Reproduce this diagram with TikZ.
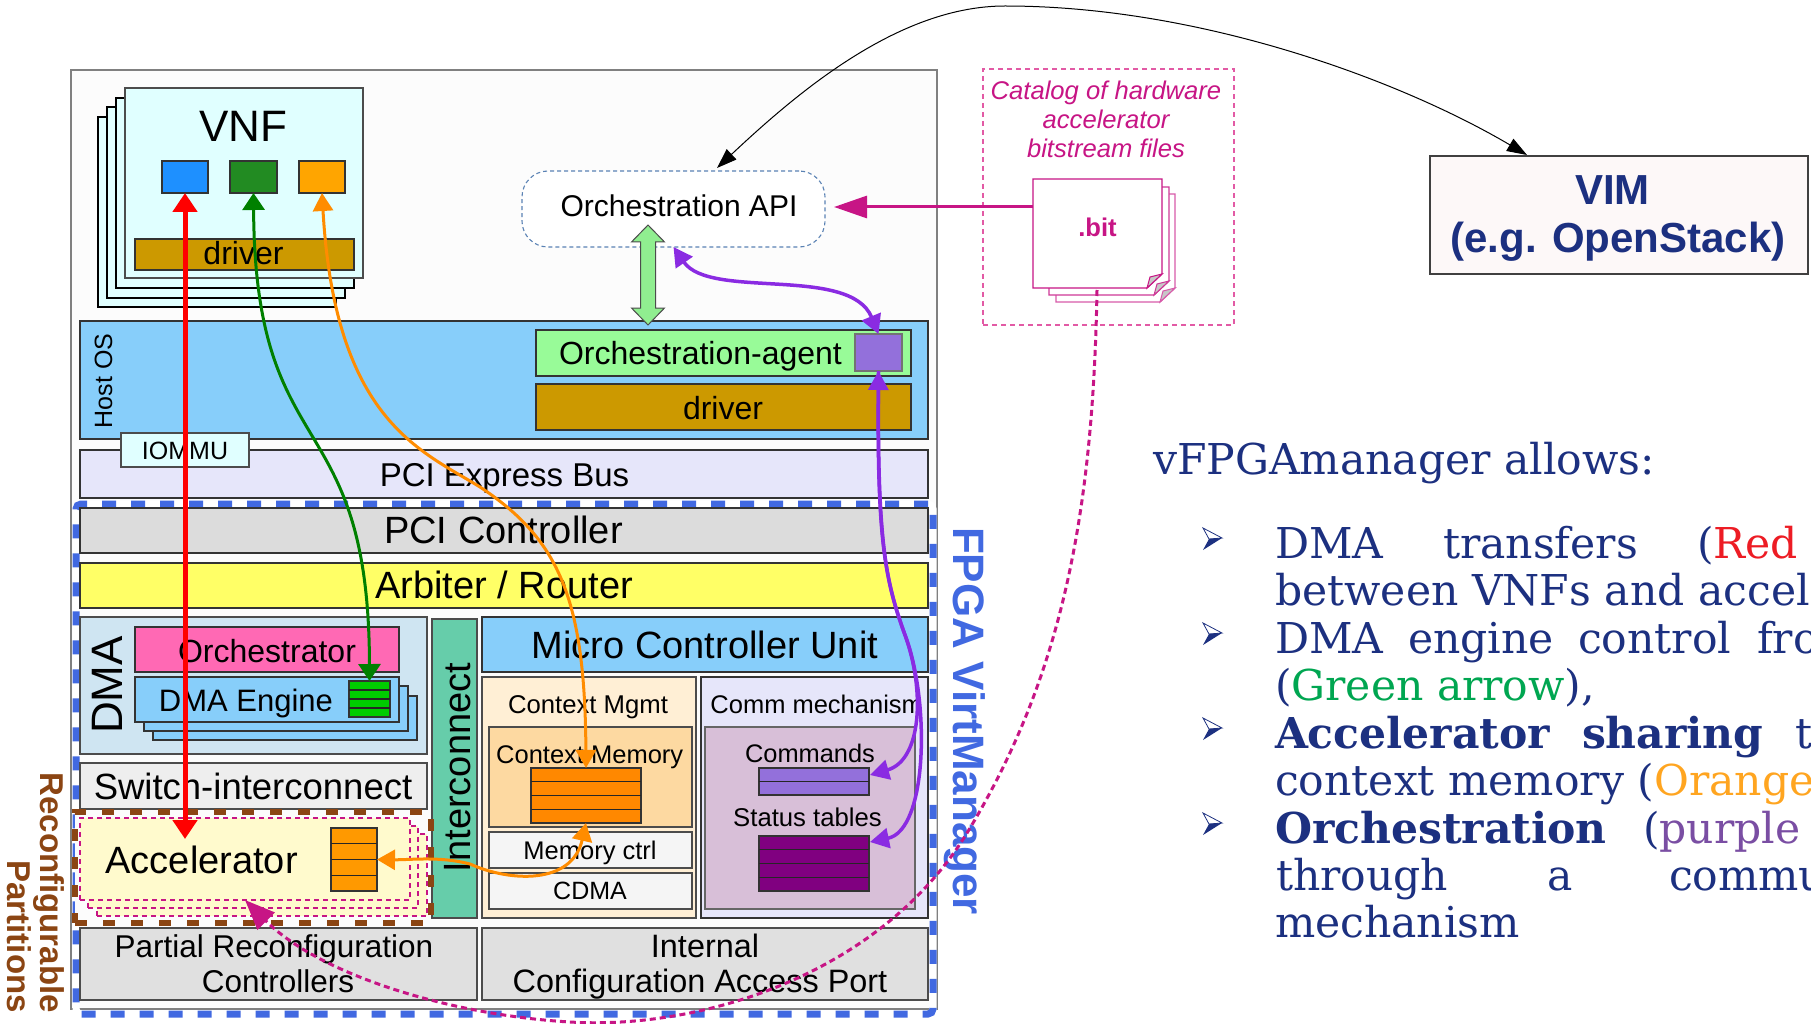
\documentclass[tikz,border=0pt]{standalone}
\usepackage{fontspec}
\setmainfont{Liberation Sans}
\newfontfamily\notefont{DejaVu Serif}
\usetikzlibrary{arrows.meta}

\definecolor{navytxt}{RGB}{28,48,128}
\definecolor{vnffill}{RGB}{224,255,255}
\definecolor{sqblue}{RGB}{30,144,255}
\definecolor{sqgreen}{RGB}{34,139,34}
\definecolor{sqorange}{RGB}{255,165,0}
\definecolor{drvfill}{RGB}{204,153,0}
\definecolor{skyfill}{RGB}{135,206,250}
\definecolor{agentfill}{RGB}{152,251,152}
\definecolor{agentsqfill}{RGB}{147,112,219}
\definecolor{busfill}{RGB}{230,230,250}
\definecolor{ctrlfill}{RGB}{220,220,220}
\definecolor{arbfill}{RGB}{255,255,102}
\definecolor{dmafill}{RGB}{207,229,242}
\definecolor{orchfill}{RGB}{255,105,180}
\definecolor{fifogreen}{RGB}{0,204,0}
\definecolor{switchfill}{RGB}{238,238,238}
\definecolor{icfill}{RGB}{102,205,170}
\definecolor{accfill}{RGB}{255,250,205}
\definecolor{fifoorange}{RGB}{255,153,0}
\definecolor{ctxorange}{RGB}{255,136,0}
\definecolor{mgmtfill}{RGB}{255,239,213}
\definecolor{memfill}{RGB}{253,217,161}
\definecolor{lightbox}{RGB}{245,245,245}
\definecolor{thistlefill}{RGB}{216,191,216}
\definecolor{cmdfill}{RGB}{147,112,219}
\definecolor{statfill}{RGB}{128,0,128}
\definecolor{cfgfill}{RGB}{224,224,224}
\definecolor{fpgablue}{RGB}{65,105,225}
\definecolor{rpbrown}{RGB}{139,69,19}
\definecolor{bitpink}{RGB}{199,21,133}
\definecolor{catpink}{RGB}{226,90,165}
\definecolor{apidash}{RGB}{90,130,180}
\definecolor{arrred}{RGB}{255,0,0}
\definecolor{arrgreen}{RGB}{0,128,0}
\definecolor{arrorange}{RGB}{255,140,0}
\definecolor{arrpurple}{RGB}{138,43,226}
\definecolor{fatgreen}{RGB}{144,238,144}
\definecolor{vimfill}{RGB}{253,248,248}
\definecolor{noteRed}{RGB}{237,28,36}
\definecolor{noteGreen}{RGB}{0,166,81}
\definecolor{noteOrange}{RGB}{255,165,32}
\definecolor{notePurple}{RGB}{122,78,163}
\definecolor{outerfill}{RGB}{252,252,252}

\newcommand\fsz[1]{\fontsize{#1}{#1}\selectfont}

\tikzset{
  blk/.style={draw=black!80, line width=1.3pt, inner sep=0pt, outer sep=0pt, anchor=north west},
  lbl/.style={inner sep=0pt, outer sep=0pt, anchor=base},
  notetxt/.style={inner sep=0pt, outer sep=0pt, anchor=base west, text=navytxt,
    font=\notefont\fsz{42.5}},
  partrect/.style={fill=accfill, draw=bitpink, line width=2.5pt, dash pattern=on 5pt off 4pt},
  docpage/.style={fill=white, draw=bitpink, line width=1.3pt},
  redarr/.style={draw=arrred, line width=5pt,
    {Triangle[length=19pt,width=24pt]}-{Triangle[length=19pt,width=24pt]}},
  greenarr/.style={draw=arrgreen, line width=3pt,
    {Triangle[length=17pt,width=22pt]}-{Triangle[length=17pt,width=22pt]}},
  orangearr/.style={draw=arrorange, line width=3pt,
    {Triangle[length=18pt,width=20pt]}-{Triangle[length=18pt,width=20pt]}},
  purplearr/.style={draw=arrpurple, line width=3.5pt,
    {Triangle[length=19pt,width=20pt]}-{Triangle[length=19pt,width=20pt]}},
  purpleone/.style={draw=arrpurple, line width=3.5pt, -{Triangle[length=19pt,width=20pt]}},
  pinkarr/.style={draw=bitpink, line width=3pt, -{Triangle[length=33pt,width=22pt]}},
  pinkdots/.style={draw=bitpink, line width=3pt, dash pattern=on 6pt off 4pt,
    -{Triangle[length=30pt,width=24pt]}},
  blackarr/.style={draw=black, line width=1pt,
    {Triangle[length=20pt,width=14pt]}-{Triangle[length=20pt,width=14pt]}},
  bullet/.pic={
    \filldraw[fill=white, draw=navytxt, line width=0.8pt] (2,-30) -- (21,-20) -- (8,-19) -- cycle;
    \fill[navytxt] (8,-19) -- (21,-20) -- (2,-8) -- cycle;
  }
}

% block: [style]{name}{x1}{y1}{x2}{y2}, top-left corner and bottom-right corner
\newcommand\blk[6][]{\node[blk,#1,minimum width={#5-#3},minimum height={#6-#4}] (#2) at (#3,#4) {};}
% queue of equal rows: {name}{x1}{y1}{x2}{y2}{rows}{colour}
\newcommand\fifo[7]{%
  \blk[fill=#7, line width=1.2pt]{#1}{#2}{#3}{#4}{#5}
  \pgfmathsetmacro\rowh{(#5-#3)/#6}
  \pgfmathtruncatemacro\lastrow{#6-1}
  \foreach \k in {1,...,\lastrow}{\draw[line width=1.2pt, black!85] (#2,{#3+\k*\rowh}) -- (#4,{#3+\k*\rowh});}
}
% sheet with a folded corner: {x1}{y1}{x2}{y2}{colour}
\newcommand\docsheet[5]{%
  \draw[docpage, draw=#5] (#1,#2) -- (#3,#2) -- (#3,#4-14) -- (#3-15,#4) -- (#1,#4) -- cycle;
  \filldraw[fill=black!22, draw=#5, line width=1pt] (#3,#4-14) -- (#3-15,#4) -- (#3-12,#4-11) -- cycle;
}

\begin{document}
\begin{tikzpicture}[x=1pt,y=-1pt]
\useasboundingbox (0,0) rectangle (1811,1024);
\fill[white] (0,0) rectangle (1811,1024);

% ---------------- host machine ----------------
\blk[draw=black!50, fill=outerfill, line width=1.5pt]{host}{71}{70}{937}{1009}

% VNF stack
\blk[fill=vnffill, draw=black]{vnfd}{98}{117}{336}{307}
\blk[fill=vnffill, draw=black]{vnfc}{107}{107}{345}{298}
\blk[fill=vnffill, draw=black]{vnfb}{116}{98}{354}{288}
\blk[fill=vnffill, draw=black!70]{vnfa}{125}{88}{363}{278}
\node[lbl, font=\fsz{44}] (tvnf) at (243.5,142) {VNF};
\blk[fill=sqblue, line width=1.2pt]{bluesq}{162}{161}{208}{193}
\blk[fill=sqgreen, line width=1.2pt]{greensq}{230}{161}{277}{193}
\blk[fill=sqorange, line width=1.2pt]{orangesq}{299}{161}{345}{193}
\blk[fill=drvfill]{vnfdrv}{135}{239}{354}{270}
\node[lbl, font=\fsz{32}] (tvnfdrv) at (243.5,265) {driver};

% orchestration API
\blk[draw=apidash, fill=white, line width=1.1pt, dash pattern=on 4pt off 3pt, rounded corners=26pt]{api}{522}{171}{825}{247}
\node[lbl, font=\fsz{30}] (tapi) at (679,217) {Orchestration API};

% host OS
\blk[fill=skyfill]{hostos}{80}{321}{928}{439}
\node[lbl, rotate=90, font=\fsz{25}] (thostos) at (112,381) {Host OS};
\blk[fill=agentfill]{agent}{536}{330}{911}{376}
\node[lbl, font=\fsz{32}] (tagent) at (700.5,364) {Orchestration-agent};
\blk[fill=agentsqfill, draw=black!55, line width=1.2pt]{agentsq}{855}{334}{902}{371}
\blk[fill=drvfill]{hostdrv}{536}{384}{911}{430}
\node[lbl, font=\fsz{32}] (thostdrv) at (723,419) {driver};

% PCI express bus and IOMMU
\blk[fill=busfill]{pcie}{80}{450}{928}{498}
\node[lbl, font=\fsz{33}] (tpcie) at (504.5,486) {PCI Express Bus};
\blk[fill=vnffill, draw=black!70]{iommu}{121}{433}{249}{467}
\node[lbl, font=\fsz{25}] (tiommu) at (185,459) {IOMMU};

% ---------------- FPGA ----------------
\blk[draw=fpgablue, line width=7pt, dash pattern=on 14pt off 15pt, rounded corners=5pt,
     preaction={draw=white, solid}]{fpga}{76}{504}{933}{1014}
\node[lbl, rotate=-90, font=\bfseries\fsz{44}, text=fpgablue] (tfpga) at (953,721) {FPGA VirtManager};

\blk[fill=ctrlfill]{pcictrl}{80}{508}{928}{553}
\node[lbl, font=\fsz{38}] (tpcictrl) at (503.5,543) {PCI Controller};
\blk[fill=arbfill]{arbiter}{80}{563}{928}{608}
\node[lbl, font=\fsz{38}] (tarbiter) at (504,598) {Arbiter / Router};

% DMA block
\blk[fill=dmafill, draw=black!70]{dma}{80}{617}{427}{754}
\node[lbl, rotate=90, font=\fsz{44}] (tdma) at (122,685) {DMA};
\blk[fill=orchfill]{orch}{135}{627}{399}{672}
\node[lbl, font=\fsz{32}] (torch) at (267,662) {Orchestrator};
\blk[fill=skyfill, draw=black!80]{enginec}{153}{696}{417}{740}
\blk[fill=skyfill, draw=black!80]{engineb}{144}{686}{408}{731}
\blk[fill=skyfill, draw=black!80]{enginea}{135}{677}{399}{722}
\node[lbl, font=\fsz{31}] (tengine) at (246,711) {DMA Engine};
\fifo{dmafifo}{349}{681}{390}{717}{4}{fifogreen}

\blk[fill=switchfill, draw=black!70]{switch}{80}{763}{427}{809}
\node[lbl, font=\fsz{36.5}] (tswitch) at (253,799) {Switch-interconnect};

\blk[fill=icfill, draw=black!70]{ic}{432}{619}{477}{918}
\node[lbl, rotate=90, font=\fsz{38}] (tic) at (470,767.5) {Interconnect};

% micro controller
\blk[fill=skyfill]{mcu}{482}{617}{928}{672}
\node[lbl, font=\fsz{38}] (tmcu) at (705,658) {Micro Controller Unit};
\blk[fill=mgmtfill, draw=black!70]{mgmt}{482}{677}{696}{918}
\node[lbl, font=\fsz{25.7}] (tmgmt) at (588,713) {Context Mgmt};
\blk[fill=memfill, draw=black!70]{ctxmem}{489}{727}{692}{827}
\node[lbl, font=\fsz{25.5}] (tctxmem) at (589.7,763) {Context Memory};
\fifo{ctxfifo}{531}{768}{641}{823}{4}{ctxorange}
\blk[fill=lightbox, draw=black!70]{memctrl}{489}{832}{692}{868}
\node[lbl, font=\fsz{25.5}] (tmemctrl) at (590,859) {Memory ctrl};
\blk[fill=lightbox, draw=black!70]{cdma}{489}{873}{692}{909}
\node[lbl, font=\fsz{25}] (tcdma) at (590,899) {CDMA};

\blk[fill=busfill]{comm}{701}{677}{928}{918}
\node[lbl, font=\fsz{25.5}] (tcomm) at (816.7,713) {Comm mechanism};
\blk[fill=thistlefill, draw=black!60]{commin}{705}{727}{915}{909}
\node[lbl, font=\fsz{25.4}] (tcmd) at (810,762) {Commands};
\fifo{cmdfifo}{759}{768}{869}{795}{2}{cmdfill}
\node[lbl, font=\fsz{25.7}] (tstat) at (807.5,826) {Status tables};
\fifo{statfifo}{759}{836}{869}{891}{4}{statfill}

% reconfiguration
\blk[fill=cfgfill, draw=black!70]{prc}{80}{928}{477}{1000}
\node[lbl, font=\fsz{31.5}] (tprca) at (274,957) {Partial Reconfiguration};
\node[lbl, font=\fsz{31.5}] (tprcb) at (278,992) {Controllers};
\blk[fill=cfgfill, draw=black!70]{icap}{482}{928}{928}{1000}
\node[lbl, font=\fsz{32.4}] (ticapa) at (705,957) {Internal};
\node[lbl, font=\fsz{32.4}] (ticapb) at (700,992) {Configuration Access Port};

% reconfigurable partitions
\blk[draw=none, fill=outerfill]{rpback}{75}{812}{431}{923}
\blk[partrect]{part3}{97}{834}{427}{916}
\blk[partrect]{part2}{88}{826}{418}{908}
\blk[partrect]{accel}{80}{818}{410}{900}
\node[lbl, font=\fsz{38}] (taccel) at (201.7,873) {Accelerator};
\fifo{accfifo}{331}{828}{377}{891}{4}{fifoorange}
\blk[draw=rpbrown, line width=6pt, dash pattern=on 12pt off 16pt]{rp}{75}{812}{431}{923}
\node[inner sep=0pt, rotate=-90, anchor=base east, font=\bfseries\fsz{33}, text=rpbrown] (trpa) at (40,1013) {Reconfigurable};
\node[inner sep=0pt, rotate=-90, anchor=base east, font=\bfseries\fsz{33}, text=rpbrown] (trpb) at (7,1013) {Partitions};

% ---------------- bitstream catalog ----------------
\blk[draw=catpink, line width=1.2pt, dash pattern=on 5pt off 4pt]{catalog}{983}{69}{1234}{325}
\node[lbl, font=\itshape\fsz{25.6}, text=bitpink] (tcata) at (1106,100) {Catalog of hardware};
\node[lbl, font=\itshape\fsz{25.6}, text=bitpink] (tcatb) at (1106,129) {accelerator};
\node[lbl, font=\itshape\fsz{25.6}, text=bitpink] (tcatc) at (1106,158) {bitstream files};
\docsheet{1056}{194}{1175}{302}{bitpink!70}
\docsheet{1049}{187}{1169}{295}{bitpink!85}
\docsheet{1033}{179}{1162}{288}{bitpink}
\node[lbl, font=\bfseries\fsz{25.6}, text=bitpink] (tbit) at (1097.5,237) {.bit};
\coordinate (bitL) at (1033,207);
\coordinate (bitB) at (1097,290);
\coordinate (apiR) at (834,207);

% ---------------- VIM ----------------
\blk[fill=vimfill, draw=black!75, line width=1.5pt]{vim}{1430}{156}{1808}{274}
\node[lbl, font=\bfseries\fsz{42}, text=navytxt] (tvima) at (1612.5,205) {VIM};
\node[lbl, font=\bfseries\fsz{42}, text=navytxt] (tvimb) at (1618,252) {(e.g. OpenStack)};
\coordinate (apiTop) at (717,168);
\coordinate (vimTop) at (1527,155);

% ---------------- connectors ----------------
% agent <-> API (fat double arrow)
\filldraw[fill=fatgreen, draw=black!70, line width=1pt]
  (648,225) -- (664.5,242) -- (655.5,242) -- (655.5,308) -- (664.5,308) -- (648,325)
  -- (631.5,308) -- (640.5,308) -- (640.5,242) -- (631.5,242) -- cycle;

\draw[blackarr] (apiTop) .. controls (800,90) and (900,6) .. (1005,6)
  .. controls (1200,6) and (1400,80) .. (vimTop);
\draw[pinkarr] (bitL) -- (apiR);

\coordinate (redEnd) at (185,839);
\draw[redarr] (bluesq.south) -- (redEnd);
\draw[greenarr] (greensq.south) .. controls (255,470) and (369,400) .. (dmafifo.north);
\draw[orangearr] (orangesq.south) .. controls (335,420) and (420,450) .. (480,487)
  .. controls (560,540) and (585,600) .. (ctxfifo.north);
\draw[orangearr] (ctxfifo.south) .. controls (572,885) and (510,882) .. (470,864)
  .. controls (440,856) and (410,860) .. (accfifo.east);

\draw[purplearr] (api.south) .. controls (710,300) and (850,265) .. (agentsq.north);
\coordinate (cmdTip) at (870,775);
\coordinate (statTip) at (870,842);
\draw[purpleone] (agentsq.south) .. controls (877,540) and (885,580) .. (905,635)
  .. controls (930,700) and (928,830) .. (statTip);
\draw[purplearr] (agentsq.south) .. controls (877,540) and (885,580) .. (905,635)
  .. controls (925,690) and (922,760) .. (cmdTip);

\coordinate (accelTip) at (245,900);
\draw[pinkdots] (bitB) .. controls (1093,520) and (1060,680) .. (967,833)
  .. controls (880,975) and (700,1030) .. (570,1022)
  .. controls (450,1015) and (320,975) .. (accelTip);

% ---------------- notes ----------------
\begin{scope}
\clip (0,0) rectangle (1811,1024);
\node[notetxt] (n0) at (1153,474) {vFPGAmanager allows:};
\pic at (1201,558) {bullet};
\node[notetxt] (n1a) at (1275,558) {DMA};
\node[notetxt] (n1b) at (1443,558) {transfers};
\node[notetxt] (n1c) at (1697,558) {(\textcolor{noteRed}{Red arrow})};
\node[notetxt] (n2) at (1275,605) {between VNFs and accelerators};
\pic at (1201,653) {bullet};
\node[notetxt] (n3a) at (1275,653) {DMA};
\node[notetxt] (n3b) at (1408,653) {engine};
\node[notetxt] (n3c) at (1578,653) {control};
\node[notetxt] (n3d) at (1757,653) {from};
\node[notetxt] (n4) at (1275,700) {(\textcolor{noteGreen}{Green arrow}),};
\pic at (1201,748) {bullet};
\node[notetxt] (n5a) at (1275,748) {\bfseries Accelerator};
\node[notetxt] (n5b) at (1582,748) {\bfseries sharing};
\node[notetxt] (n5c) at (1795,748) {through};
\node[notetxt] (n6) at (1275,795) {context memory (\textcolor{noteOrange}{Orange arrow})};
\pic at (1201,843) {bullet};
\node[notetxt] (n7a) at (1275,843) {\bfseries Orchestration};
\node[notetxt] (n7b) at (1643,843) {(\textcolor{notePurple}{purple arrow})};
\node[notetxt] (n8a) at (1276,890) {through};
\node[notetxt] (n8b) at (1547,890) {a};
\node[notetxt] (n8c) at (1669,890) {communication};
\node[notetxt] (n9) at (1275,937) {mechanism};
\end{scope}
\end{tikzpicture}
\end{document}
